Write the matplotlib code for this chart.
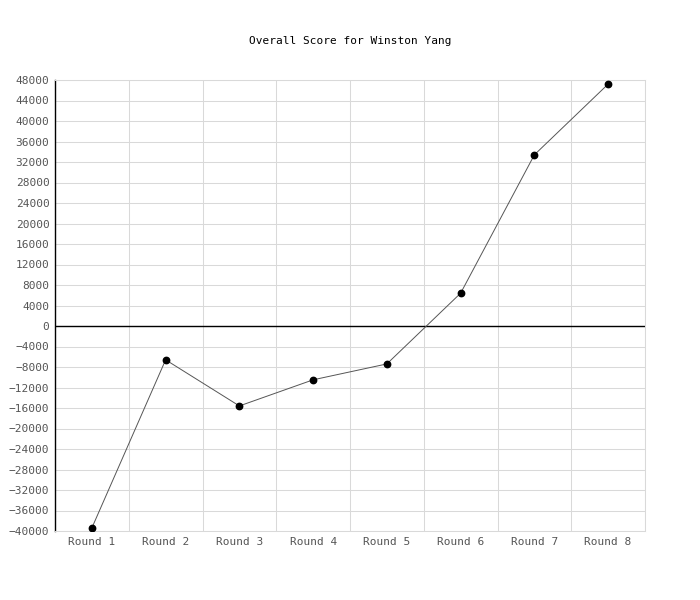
import matplotlib
matplotlib.use("Agg")
import matplotlib.pyplot as plt
import numpy as np

# data
rounds = ["Round 1", "Round 2", "Round 3", "Round 4",
          "Round 5", "Round 6", "Round 7", "Round 8"]
scores = [-39400, -6600, -15600, -10500, -7400, 6400, 33400, 47200]
y_ticks = list(range(-40000, 48001, 4000))

FONT = "DejaVu Sans Mono"
GRID = "#d9d9d9"
TICK = "#555555"

fig = plt.figure(figsize=(7, 6), dpi=100)
ax = fig.add_axes([55 / 700, 1 - 531 / 600, 590 / 700, 451 / 600])

x = np.arange(len(rounds)) + 0.5
ax.plot(x, scores, "-", color="#555555", linewidth=0.7, zorder=3)
ax.plot(x, scores, "o", color="black", markersize=4.6, zorder=4)
ax.axhline(0, color="black", linewidth=1.0, zorder=2)

ax.set_xlim(0, len(rounds))
ax.set_ylim(-40000, 48000)
ax.set_yticks(y_ticks)
ax.set_yticklabels([f"{v}".replace("-", "\u2212") for v in y_ticks],
                   fontfamily=FONT, fontsize=8, color=TICK)
ax.set_xticks(x)
ax.set_xticklabels(rounds, fontfamily=FONT, fontsize=8, color=TICK)
ax.set_xticks(np.arange(len(rounds) + 1), minor=True)

ax.grid(True, which="major", axis="y", color=GRID, linewidth=0.75)
ax.grid(True, which="minor", axis="x", color=GRID, linewidth=0.75)
ax.set_axisbelow(True)
ax.tick_params(axis="both", which="both", length=0, pad=4)

for side in ["top", "right", "bottom"]:
    ax.spines[side].set_color(GRID)
    ax.spines[side].set_linewidth(0.75)
ax.spines["left"].set_color("black")
ax.spines["left"].set_linewidth(1.0)

fig.text(0.5, 1 - 41 / 600, "Overall Score for Winston Yang", ha="center",
         va="center", fontfamily=FONT, fontsize=8, color="black")

fig.savefig("out.png", dpi=100)
